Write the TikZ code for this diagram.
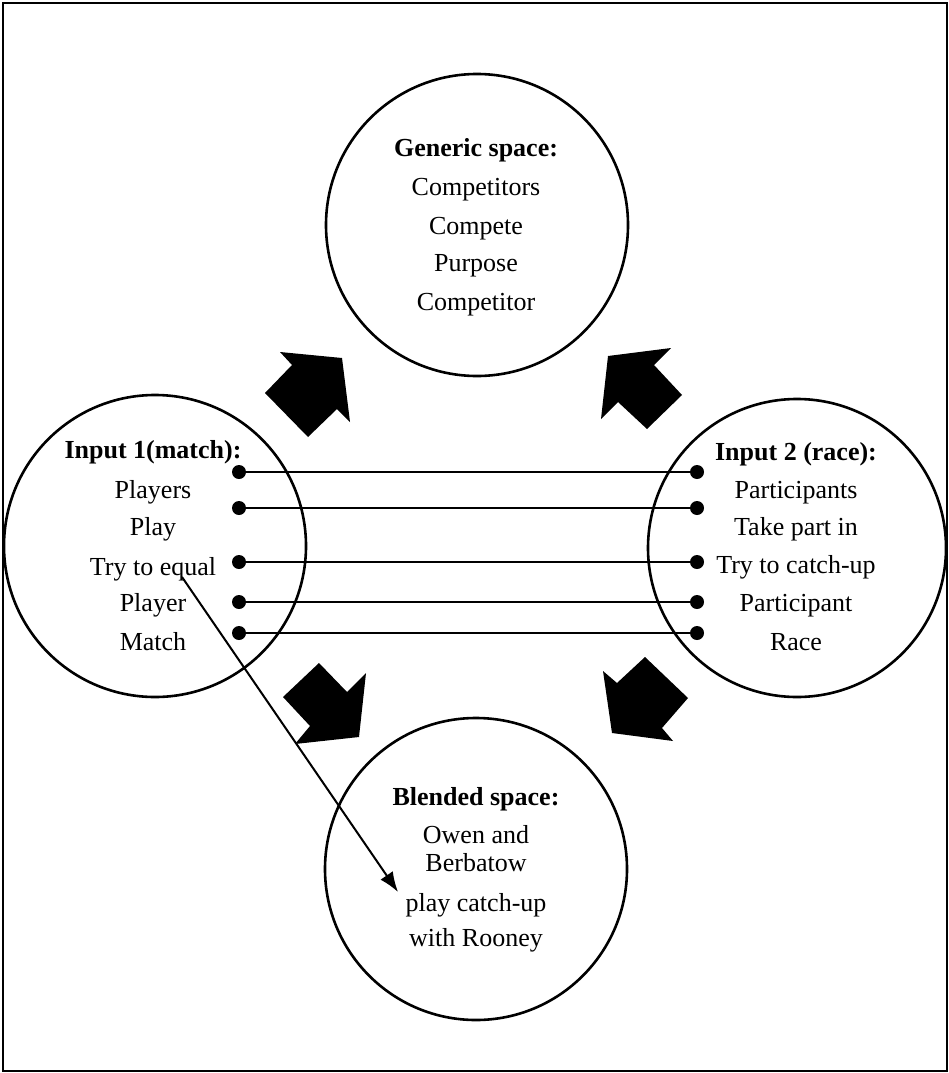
\documentclass[tikz,border=0pt]{standalone}
\usepackage{fontspec}
\setmainfont{Liberation Serif}
\usetikzlibrary{arrows.meta}
\begin{document}
\begin{tikzpicture}[x=1pt,y=-1pt,
  circ/.style={draw, circle, line width=2.6pt, inner sep=0pt, minimum size=302pt},
  txt/.style={anchor=base, font=\fontsize{26}{30}\selectfont, inner sep=0pt},
  ttl/.style={anchor=base, font=\fontsize{26}{30}\selectfont\bfseries, inner sep=0pt},
  dotc/.style={circle, fill=black, inner sep=0pt, minimum size=14pt},
  conn/.style={line width=2pt},
  blk/.style={fill=black}]
\useasboundingbox (0,0) rectangle (949,1073);
\draw[line width=1.5pt] (3,3) rectangle (947,1071);
% circles
\node[circ] (gen) at (477,225) {};
\node[circ] (in1) at (155,546) {};
\node[circ, minimum size=298pt] (in2) at (797,548) {};
\node[circ] (bl) at (476,869) {};
% generic text
\node[ttl] (g0) at (476,156) {Generic space:};
\node[txt] (g1) at (476,195) {Competitors};
\node[txt] (g2) at (476,234) {Compete};
\node[txt] (g3) at (476,271) {Purpose};
\node[txt] (g4) at (476,310) {Competitor};
% input 1 text
\node[ttl] (a0) at (153,458) {Input 1(match):};
\node[txt] (a1) at (153,498) {Players};
\node[txt] (a2) at (153,535) {Play};
\node[txt] (a3) at (153,575) {Try to equal};
\node[txt] (a4) at (153,611) {Player};
\node[txt] (a5) at (153,650) {Match};
% input 2 text
\node[ttl] (b0) at (796,460) {Input 2 (race):};
\node[txt] (b1) at (796,498) {Participants};
\node[txt] (b2) at (796,535) {Take part in};
\node[txt] (b3) at (796,573) {Try to catch-up};
\node[txt] (b4) at (796,611) {Participant};
\node[txt] (b5) at (796,650) {Race};
% blended text
\node[ttl] (c0) at (476,805) {Blended space:};
\node[txt] (c1) at (476,843) {Owen and};
\node[txt] (c2) at (476,871) {Berbatow};
\node[txt] (c3) at (476,911) {play catch-up};
\node[txt] (c4) at (476,946) {with Rooney};
% dots and connectors
\foreach \i/\yy in {1/472,2/508,3/562,4/602,5/633}{
  \node[dotc] (l\i) at (239,\yy) {};
  \node[dotc] (r\i) at (697,\yy) {};
  \draw[conn] (l\i.center) -- (r\i.center);
}
% diagonal arrow
\coordinate (eq) at (182,577);
\coordinate (pc) at (398,892);
\draw[line width=2pt, -{Latex[length=20pt,width=15pt]}] (eq) -- (pc);
% block arrows
\fill[blk] (280,352) -- (342,358) -- (350,422) -- (337,409) -- (308,437) -- (265,393) -- (292,365) -- cycle;
\fill[blk] (671,348) -- (608,356) -- (601,419) -- (618,402) -- (647,429) -- (682,395) -- (654,365) -- cycle;
\fill[blk] (366,673) -- (359,737) -- (295,744) -- (310,726) -- (283,697) -- (319,663) -- (347,692) -- cycle;
\fill[blk] (603,671) -- (612,733) -- (673,741) -- (662,728) -- (688,698) -- (645,657) -- (617,683) -- cycle;
\end{tikzpicture}
\end{document}
